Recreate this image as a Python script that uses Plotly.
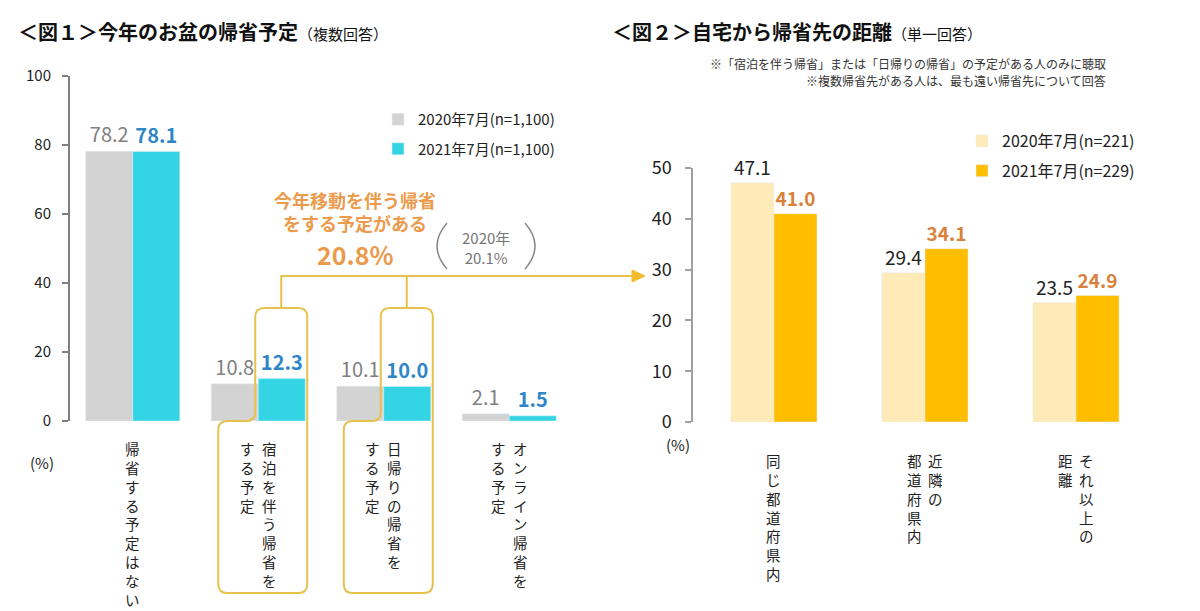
import plotly.graph_objects as go

W, H = 1200, 611
FONT = "Noto Sans CJK JP"

# ---------------- data ----------------
cats1 = ["帰省する予定はない", "宿泊を伴う帰省をする予定", "日帰りの帰省をする予定", "オンライン帰省をする予定"]
cats1_cols = [["帰省する予定はない"], ["宿泊を伴う帰省を", "する予定"], ["日帰りの帰省を", "する予定"], ["オンライン帰省を", "する予定"]]
v1_2020 = [78.2, 10.8, 10.1, 2.1]
v1_2021 = [78.1, 12.3, 10.0, 1.5]
name1_2020 = "2020年7月(n=1,100)"
name1_2021 = "2021年7月(n=1,100)"
ticks1 = [0, 20, 40, 60, 80, 100]

cats2 = ["同じ都道府県内", "近隣の都道府県内", "それ以上の距離"]
cats2_cols = [["同じ都道府県内"], ["近隣の", "都道府県内"], ["それ以上の", "距離"]]
v2_2020 = [47.1, 29.4, 23.5]
v2_2021 = [41.0, 34.1, 24.9]
name2_2020 = "2020年7月(n=221)"
name2_2021 = "2021年7月(n=229)"
ticks2 = [0, 10, 20, 30, 40, 50]

title1 = "＜図１＞今年のお盆の帰省予定"
sub1 = "（複数回答）"
title2 = "＜図２＞自宅から帰省先の距離"
sub2 = "（単一回答）"
notes2 = ["※「宿泊を伴う帰省」または「日帰りの帰省」の予定がある人のみに聴取",
          "※複数帰省先がある人は、最も遠い帰省先について回答"]
callout_lines = ["今年移動を伴う帰省", "をする予定がある"]
callout_total = "20.8%"
callout_prev = ["2020年", "20.1%"]

# ---------------- layout geometry (pixels) ----------------
L1_X0, L1_X1 = 70, 572
L1_Y0, L1_Y1 = 421, 76
R1 = [-0.5, 3.5]
L2_X0, L2_X1 = 693, 1150
L2_Y0, L2_Y1 = 422, 168
R2 = [-0.536, 2.49]

GRAY = "#D3D3D3"
CYAN = "#33D5E5"
LIGHT = "#FFEBB8"
GOLD = "#FFBE00"
LINE = "#E8C14D"
ORANGE = "#EC9A4C"


def X(px):
    return px / W


def Y(py):
    return 1 - py / H


def xl(v):
    return L1_X0 + (v - R1[0]) / (R1[1] - R1[0]) * (L1_X1 - L1_X0)


def P(px, py):
    return f"{X(px):.5f},{Y(py):.5f}"


fig = go.Figure()

bw1 = 0.375
fig.add_trace(go.Bar(x=cats1, y=v1_2020, name=name1_2020, marker_color=GRAY, width=bw1, offset=-bw1,
                     texttemplate="%{y:.1f}", textposition="outside",
                     textfont=dict(size=20, color="#808080", family=FONT), cliponaxis=False,
                     xaxis="x", yaxis="y", legend="legend", legendgroup="a"))
fig.add_trace(go.Bar(x=cats1, y=v1_2021, name=name1_2021, marker_color=CYAN, width=bw1, offset=0,
                     texttemplate="<b>%{y:.1f}</b>", textposition="outside",
                     textfont=dict(size=20, color="#2E86C8", family=FONT), cliponaxis=False,
                     xaxis="x", yaxis="y", legend="legend", legendgroup="b"))

bw2 = 0.285
fig.add_trace(go.Bar(x=cats2, y=v2_2020, name=name2_2020, marker_color=LIGHT, width=bw2, offset=-bw2,
                     texttemplate="%{y:.1f}", textposition="outside",
                     textfont=dict(size=19, color="#222222", family=FONT), cliponaxis=False,
                     xaxis="x2", yaxis="y2", legend="legend2", legendgroup="c"))
fig.add_trace(go.Bar(x=cats2, y=v2_2021, name=name2_2021, marker_color=GOLD, width=bw2, offset=0,
                     texttemplate="<b>%{y:.1f}</b>", textposition="outside",
                     textfont=dict(size=19, color="#D9823B", family=FONT), cliponaxis=False,
                     xaxis="x2", yaxis="y2", legend="legend2", legendgroup="d"))

annotations = []


def note(px, py, text, size, color, xa="center", ya="middle"):
    annotations.append(dict(x=X(px), y=Y(py), xref="paper", yref="paper", xanchor=xa, yanchor=ya,
                            showarrow=False, text=text, font=dict(size=size, color=color, family=FONT)))


# titles
note(16, 32, f"<b>{title1}</b><span style='font-size:15px'>{sub1}</span>", 20, "#111111", xa="left")
note(610, 32, f"<b>{title2}</b><span style='font-size:15px'>{sub2}</span>", 20, "#111111", xa="left")
for k, t in enumerate(notes2):
    note(1108, 63 + 18 * k, t, 12, "#333333", xa="right")


# vertical category labels
def vertical(cols_list, cats, xref, top_py, size, gap):
    for cat, cols in zip(cats, cols_list):
        n = len(cols)
        for j, col in enumerate(cols):
            shift = gap * ((n - 1) / 2 - j)
            annotations.append(dict(x=cat, xref=xref, y=Y(top_py), yref="paper", xanchor="center",
                                    yanchor="top", xshift=shift, showarrow=False,
                                    text="<br>".join(list(col)),
                                    font=dict(size=size, color="#222222", family=FONT)))


vertical(cats1_cols, cats1, "x", 436, 14.5, 22)
vertical(cats2_cols, cats2, "x2", 448, 14.5, 21)

note(42, 462, "(%)", 15, "#222222")
note(678, 445, "(%)", 15, "#222222")

# callout
note(355, 212, "<b>" + "<br>".join(callout_lines) + "</b>", 18, ORANGE)
note(355, 254, f"<b>{callout_total}</b>", 25, ORANGE)
note(486, 247, "<br>".join(callout_prev), 15, "#777777")

shapes = []
# parentheses
shapes.append(dict(type="path", xref="paper", yref="paper",
                   path=f"M {P(447,223)} Q {P(427,246)} {P(447,269)}",
                   line=dict(color="#888888", width=1.5)))
shapes.append(dict(type="path", xref="paper", yref="paper",
                   path=f"M {P(525,223)} Q {P(545,246)} {P(525,269)}",
                   line=dict(color="#888888", width=1.5)))

# boxes around the two "移動を伴う" categories
r = 9
top, step, bot = 308, 421, 593
centers = []
for i in (1, 2):
    c = xl(i)
    Lx, Rx, LL = c - 3, c + 49, c - 40
    centers.append((Lx + Rx) / 2)
    path = (f"M {P(Lx, top + r)} Q {P(Lx, top)} {P(Lx + r, top)} L {P(Rx - r, top)} "
            f"Q {P(Rx, top)} {P(Rx, top + r)} L {P(Rx, bot - r)} Q {P(Rx, bot)} {P(Rx - r, bot)} "
            f"L {P(LL + r, bot)} Q {P(LL, bot)} {P(LL, bot - r)} L {P(LL, step + r)} "
            f"Q {P(LL, step)} {P(LL + r, step)} L {P(Lx - r, step)} Q {P(Lx, step)} {P(Lx, step - r)} Z")
    shapes.append(dict(type="path", xref="paper", yref="paper", path=path,
                       line=dict(color=LINE, width=2)))

yb = 276
shapes.append(dict(type="path", xref="paper", yref="paper",
                   path=f"M {P(centers[0], top)} L {P(centers[0], yb)} L {P(634, yb)}",
                   line=dict(color=LINE, width=2)))
shapes.append(dict(type="path", xref="paper", yref="paper",
                   path=f"M {P(centers[1], yb)} L {P(centers[1], top)}",
                   line=dict(color=LINE, width=2)))
shapes.append(dict(type="path", xref="paper", yref="paper",
                   path=f"M {P(632, yb - 6)} L {P(645, yb)} L {P(632, yb + 6)} Z",
                   fillcolor="#F2BC2E", line=dict(color="#F2BC2E", width=1)))

fig.update_layout(
    width=W, height=H, margin=dict(l=0, r=0, t=0, b=0, pad=0, autoexpand=False),
    paper_bgcolor="white", plot_bgcolor="white",
    barmode="overlay",
    font=dict(family=FONT, color="#222222"),
    xaxis=dict(domain=[X(L1_X0), X(L1_X1)], range=R1, showticklabels=False, showline=False,
               showgrid=False, zeroline=False, ticks="", automargin=False),
    yaxis=dict(domain=[Y(L1_Y0), Y(L1_Y1)], range=[0, 100], tickvals=ticks1, showline=True,
               linecolor="#7F7F7F", linewidth=2, ticks="outside", ticklen=6, tickcolor="#7F7F7F",
               tickwidth=2, showgrid=False, zeroline=False, ticklabelstandoff=8, automargin=False,
               tickfont=dict(size=15, color="#222222", family=FONT)),
    xaxis2=dict(domain=[X(L2_X0), X(L2_X1)], range=R2, showticklabels=False, showline=False,
                showgrid=False, zeroline=False, ticks="", anchor="y2", automargin=False),
    yaxis2=dict(domain=[Y(L2_Y0), Y(L2_Y1)], range=[0, 50], tickvals=ticks2, showline=True,
                linecolor="#A0A0A0", linewidth=1.5, ticks="outside", ticklen=6, tickcolor="#A0A0A0",
                tickwidth=1.5, showgrid=False, zeroline=False, anchor="x2", ticklabelstandoff=10,
                automargin=False, tickfont=dict(size=18, color="#222222", family=FONT)),
    legend=dict(x=X(378), y=Y(103), xanchor="left", yanchor="top", bgcolor="rgba(0,0,0,0)",
                font=dict(size=15, color="#222222", family=FONT), tracegroupgap=7, itemwidth=30,
                traceorder="grouped"),
    legend2=dict(x=X(962), y=Y(124), xanchor="left", yanchor="top", bgcolor="rgba(0,0,0,0)",
                 font=dict(size=16, color="#222222", family=FONT), tracegroupgap=6, itemwidth=30,
                 traceorder="grouped"),
    annotations=annotations,
    shapes=shapes,
)

fig.write_html("out.html", config={"displayModeBar": False},
               post_script="document.body.style.margin='0';document.body.style.overflow='hidden';")
